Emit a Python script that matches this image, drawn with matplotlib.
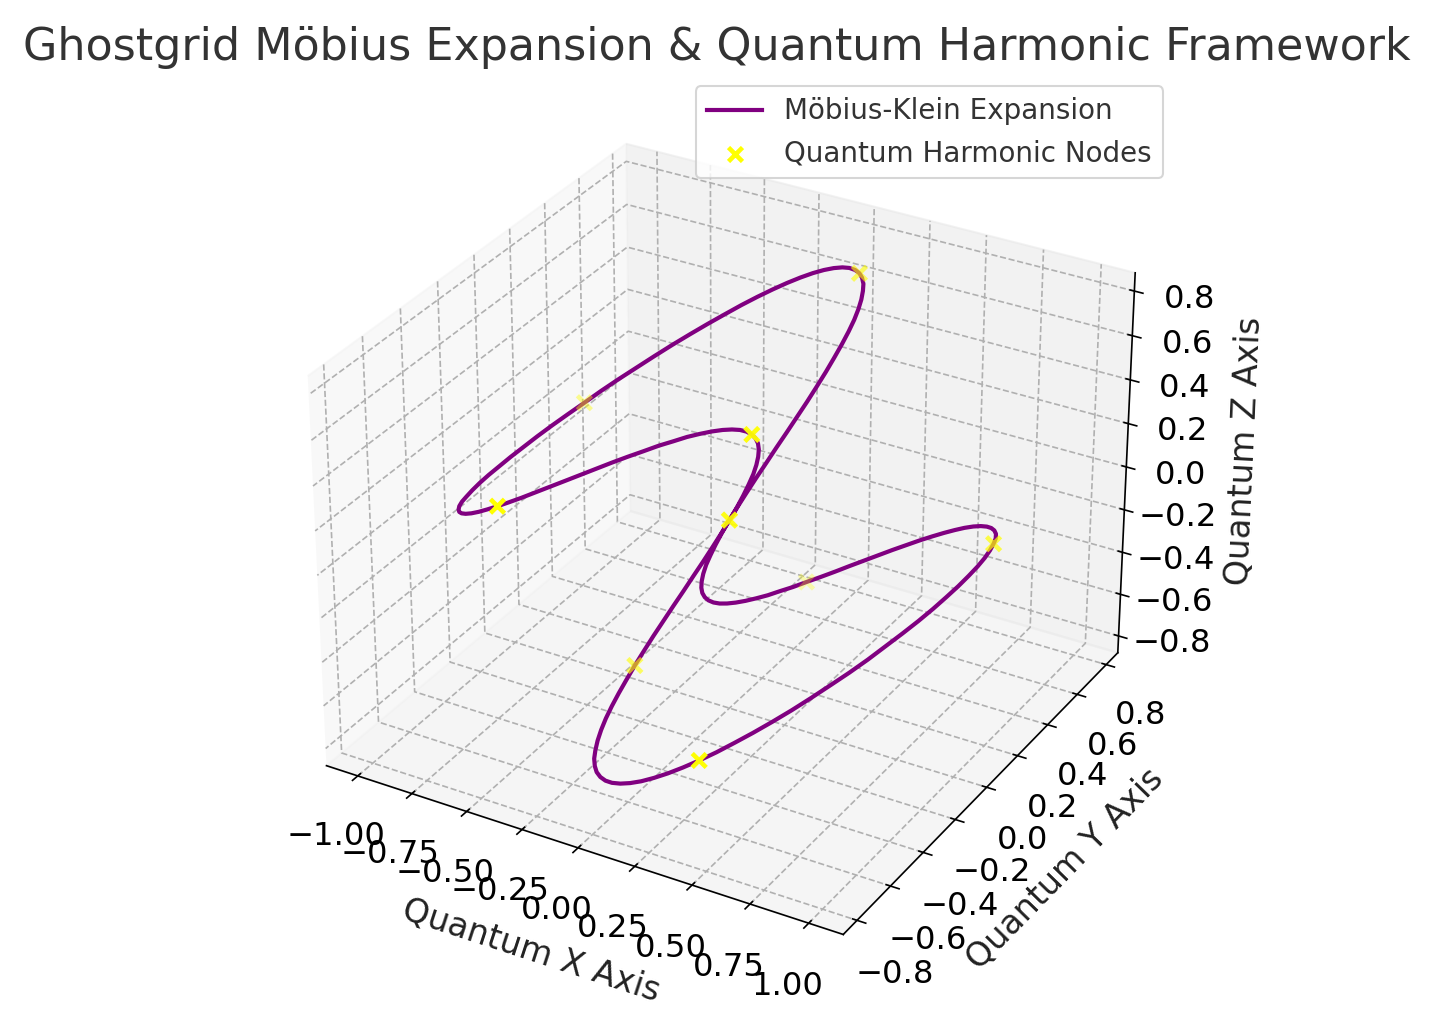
import numpy as np
import matplotlib
matplotlib.use("Agg")
import matplotlib.pyplot as plt

# dashed grid like the original
plt.rcParams['grid.linestyle'] = '--'
plt.rcParams['grid.color'] = '#b0b0b0'
plt.rcParams['grid.linewidth'] = 0.8

# Möbius-Klein curve, sampled every 2 degrees (0..360)
curve_x = [
    0.000, 0.035, 0.069, 0.102, 0.134, 0.163, 0.190, 0.214, 0.234, 0.250, 0.262, 0.269, 0.272, 0.270, 0.263, 0.250,
    0.232, 0.209, 0.182, 0.149, 0.112, 0.070, 0.024, -0.025, -0.078, -0.133, -0.191, -0.250, -0.311, -0.372, -0.433,
    -0.494, -0.553, -0.611, -0.667, -0.720, -0.769, -0.815, -0.857, -0.894, -0.925, -0.952, -0.973, -0.988, -0.997, -1.000,
    -0.997, -0.988, -0.973, -0.952, -0.925, -0.894, -0.857, -0.815, -0.769, -0.720, -0.667, -0.611, -0.553, -0.494, -0.433,
    -0.372, -0.311, -0.250, -0.191, -0.133, -0.078, -0.025, 0.024, 0.070, 0.112, 0.149, 0.182, 0.209, 0.232, 0.250,
    0.263, 0.270, 0.272, 0.269, 0.262, 0.250, 0.234, 0.214, 0.190, 0.163, 0.134, 0.102, 0.069, 0.035, 0.000,
    -0.035, -0.069, -0.102, -0.134, -0.163, -0.190, -0.214, -0.234, -0.250, -0.262, -0.269, -0.272, -0.270, -0.263, -0.250,
    -0.232, -0.209, -0.182, -0.149, -0.112, -0.070, -0.024, 0.025, 0.078, 0.133, 0.191, 0.250, 0.311, 0.372, 0.433,
    0.494, 0.553, 0.611, 0.667, 0.720, 0.769, 0.815, 0.857, 0.894, 0.925, 0.952, 0.973, 0.988, 0.997, 1.000,
    0.997, 0.988, 0.973, 0.952, 0.925, 0.894, 0.857, 0.815, 0.769, 0.720, 0.667, 0.611, 0.553, 0.494, 0.433,
    0.372, 0.311, 0.250, 0.191, 0.133, 0.078, 0.025, -0.024, -0.070, -0.112, -0.149, -0.182, -0.209, -0.232, -0.250,
    -0.263, -0.270, -0.272, -0.269, -0.262, -0.250, -0.234, -0.214, -0.190, -0.163, -0.134, -0.102, -0.069, -0.035, 0.000,
]
curve_y = [
    0.000, 0.002, 0.010, 0.022, 0.038, 0.059, 0.085, 0.114, 0.146, 0.182, 0.220, 0.260, 0.302, 0.345, 0.389, 0.433,
    0.476, 0.518, 0.559, 0.597, 0.633, 0.665, 0.694, 0.719, 0.739, 0.754, 0.765, 0.769, 0.769, 0.762, 0.750,
    0.732, 0.708, 0.679, 0.644, 0.604, 0.559, 0.509, 0.456, 0.398, 0.337, 0.273, 0.207, 0.139, 0.070, 0.000,
    -0.070, -0.139, -0.207, -0.273, -0.337, -0.398, -0.456, -0.509, -0.559, -0.604, -0.644, -0.679, -0.708, -0.732, -0.750,
    -0.762, -0.769, -0.769, -0.765, -0.754, -0.739, -0.719, -0.694, -0.665, -0.633, -0.597, -0.559, -0.518, -0.476, -0.433,
    -0.389, -0.345, -0.302, -0.260, -0.220, -0.182, -0.146, -0.114, -0.085, -0.059, -0.038, -0.022, -0.010, -0.002, 0.000,
    -0.002, -0.010, -0.022, -0.038, -0.059, -0.085, -0.114, -0.146, -0.182, -0.220, -0.260, -0.302, -0.345, -0.389, -0.433,
    -0.476, -0.518, -0.559, -0.597, -0.633, -0.665, -0.694, -0.719, -0.739, -0.754, -0.765, -0.769, -0.769, -0.762, -0.750,
    -0.732, -0.708, -0.679, -0.644, -0.604, -0.559, -0.509, -0.456, -0.398, -0.337, -0.273, -0.207, -0.139, -0.070, 0.000,
    0.070, 0.139, 0.207, 0.273, 0.337, 0.398, 0.456, 0.509, 0.559, 0.604, 0.644, 0.679, 0.708, 0.732, 0.750,
    0.762, 0.769, 0.769, 0.765, 0.754, 0.739, 0.719, 0.694, 0.665, 0.633, 0.597, 0.559, 0.518, 0.476, 0.433,
    0.389, 0.345, 0.302, 0.260, 0.220, 0.182, 0.146, 0.114, 0.085, 0.059, 0.038, 0.022, 0.010, 0.002, 0.000,
]
curve_z = [
    0.000, 0.070, 0.139, 0.207, 0.273, 0.337, 0.398, 0.456, 0.509, 0.559, 0.604, 0.644, 0.679, 0.708, 0.732, 0.750,
    0.762, 0.769, 0.769, 0.765, 0.754, 0.739, 0.719, 0.694, 0.665, 0.633, 0.597, 0.559, 0.518, 0.476, 0.433,
    0.389, 0.345, 0.302, 0.260, 0.220, 0.182, 0.146, 0.114, 0.085, 0.059, 0.038, 0.022, 0.010, 0.002, 0.000,
    0.002, 0.010, 0.022, 0.038, 0.059, 0.085, 0.114, 0.146, 0.182, 0.220, 0.260, 0.302, 0.345, 0.389, 0.433,
    0.476, 0.518, 0.559, 0.597, 0.633, 0.665, 0.694, 0.719, 0.739, 0.754, 0.765, 0.769, 0.769, 0.762, 0.750,
    0.732, 0.708, 0.679, 0.644, 0.604, 0.559, 0.509, 0.456, 0.398, 0.337, 0.273, 0.207, 0.139, 0.070, 0.000,
    -0.070, -0.139, -0.207, -0.273, -0.337, -0.398, -0.456, -0.509, -0.559, -0.604, -0.644, -0.679, -0.708, -0.732, -0.750,
    -0.762, -0.769, -0.769, -0.765, -0.754, -0.739, -0.719, -0.694, -0.665, -0.633, -0.597, -0.559, -0.518, -0.476, -0.433,
    -0.389, -0.345, -0.302, -0.260, -0.220, -0.182, -0.146, -0.114, -0.085, -0.059, -0.038, -0.022, -0.010, -0.002, 0.000,
    -0.002, -0.010, -0.022, -0.038, -0.059, -0.085, -0.114, -0.146, -0.182, -0.220, -0.260, -0.302, -0.345, -0.389, -0.433,
    -0.476, -0.518, -0.559, -0.597, -0.633, -0.665, -0.694, -0.719, -0.739, -0.754, -0.765, -0.769, -0.769, -0.762, -0.750,
    -0.732, -0.708, -0.679, -0.644, -0.604, -0.559, -0.509, -0.456, -0.398, -0.337, -0.273, -0.207, -0.139, -0.070, 0.000,
]

# quantum harmonic nodes
node_x = [0.000, 0.112, -0.925, -0.433, 0.262, -0.262, 0.433, 0.925, -0.112, 0.000]
node_y = [0.000, 0.633, 0.337, -0.750, -0.220, -0.220, -0.750, 0.337, 0.633, 0.000]
node_z = [0.000, 0.754, 0.059, 0.433, 0.604, -0.604, -0.433, -0.059, -0.754, 0.000]

x_ticks = [-1.0, -0.75, -0.5, -0.25, 0.0, 0.25, 0.5, 0.75, 1.0]
yz_ticks = [-0.8, -0.6, -0.4, -0.2, 0.0, 0.2, 0.4, 0.6, 0.8]

fig = plt.figure(figsize=(1431 / 150, 1024 / 150), dpi=150)
ax = fig.add_subplot(111, projection='3d')
ax.set_position([0.1796, 0.0283, 0.6429, 0.9033])

ax.plot(curve_x, curve_y, curve_z, color='purple', linewidth=2, label='Möbius-Klein Expansion')
ax.scatter(node_x, node_y, node_z, color='yellow', marker='x', s=45, linewidths=2.2,
           label='Quantum Harmonic Nodes')

ax.set_xticks(x_ticks)
ax.set_yticks(yz_ticks)
ax.set_zticks(yz_ticks)
ax.tick_params(labelsize=15.5, pad=8)

ax.set_title('Ghostgrid Möbius Expansion & Quantum Harmonic Framework', fontsize=21.3, color='#333333')
ax.set_xlabel('Quantum X Axis', fontsize=16, color='#222222', labelpad=14)
ax.set_ylabel('Quantum Y Axis', fontsize=16, color='#222222', labelpad=14)
ax.set_zlabel('Quantum Z Axis', fontsize=16, color='#222222', labelpad=14)
leg = ax.legend(loc='upper right', fontsize=13.3)
for txt in leg.get_texts():
    txt.set_color('#333333')

fig.savefig('out.png', dpi=150)
